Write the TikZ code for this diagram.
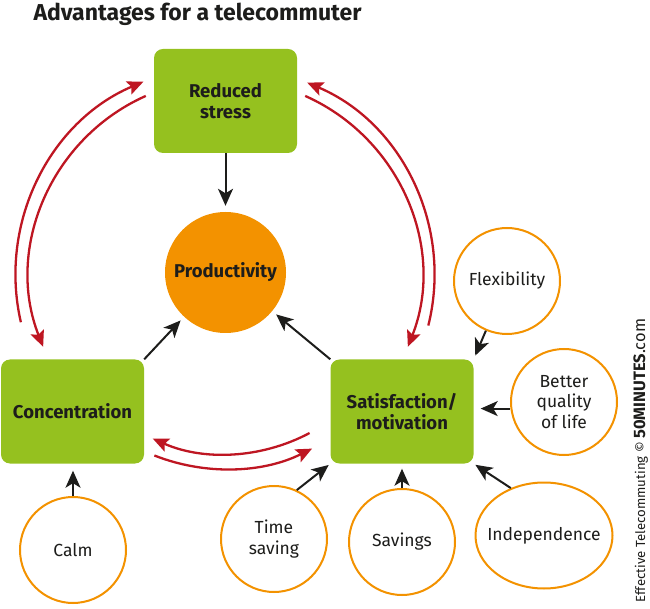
\documentclass[tikz,border=0pt]{standalone}
\usepackage{fontspec}
\setmainfont{Fira Sans}
\usetikzlibrary{arrows.meta, calc, shapes.geometric}
\definecolor{leafgreen}{HTML}{95C11F}
\definecolor{sunorange}{HTML}{F39200}
\definecolor{arrowred}{HTML}{BE1622}
\definecolor{ink}{HTML}{1D1D1B}
\tikzstyle{benefit}=[rectangle, rounded corners=9pt, fill=leafgreen, minimum width=143pt, minimum height=104pt, inner sep=2pt, align=center, text=ink, font=\bfseries\fontsize{18.5}{21}\selectfont]
\tikzstyle{hubdisc}=[circle, fill=sunorange, minimum size=121pt, inner sep=0pt, text=ink, font=\bfseries\fontsize{18.5}{21}\selectfont]
\tikzstyle{factor}=[circle, draw=sunorange, line width=2pt, fill=white, minimum size=106pt, inner sep=0pt, align=center, text=ink, font=\fontsize{17.5}{20.5}\selectfont]
\tikzstyle{lead}=[draw=ink, line width=2pt, -{Stealth[length=17pt, width=15pt, inset=4.5pt]}]
\tikzstyle{feedback}=[draw=arrowred, line width=2.3pt, -{Stealth[length=16pt, width=14pt, inset=3pt]}]

\begin{document}
\begin{tikzpicture}[x=1pt, y=1pt]
	\useasboundingbox (0,0) rectangle (650,608);

	\node[anchor=base west, text=ink, font=\bfseries\fontsize{23}{26}\selectfont] (title) at (30,587) {Advantages for a telecommuter};

	\node[benefit] (stress) at (225.5,507) {Reduced\\stress};
	\node[hubdisc] (prod) at (225.5,335.5) {Productivity};
	\node[benefit] (conc) at (72.5,196.5) {Concentration};
	\node[benefit] (satis) at (402,196.5) {Satisfaction/\\motivation};

	\node[factor] (calm) at (73,58) {Calm};
	\node[factor] (timesave) at (274,69) {Time\\saving};
	\node[factor] (savings) at (402,66) {Savings};
	\node[factor, ellipse, inner xsep=-10pt, minimum width=137pt, minimum height=106pt] (indep) at (544,72.5) {Independence};
	\node[factor] (quality) at (564,206) {Better\\quality\\of life};
	\node[factor] (flex) at (507,327) {Flexibility};

	\node[rotate=90, anchor=base west, text=ink, font=\fontsize{13.2}{15}\selectfont] (credit) at (645,2)
		{Effective Telecommuting \textcopyright{} {\fontsize{16.5}{18}\selectfont\bfseries 50MINUTES}{\fontsize{16.5}{18}\selectfont .com}};

	% black arrows
	\draw[lead, shorten >=6pt] (stress) -- (prod);
	\draw[lead, shorten >=5pt] (conc.north east) -- (prod);
	\draw[lead, shorten >=5pt] (satis.north west) -- (prod);
	\draw[lead, shorten >=4pt] (flex) -- (satis.north east);
	\draw[lead, shorten >=7pt] (quality.187) -- (quality.187 -| satis.east);
	\draw[lead, shorten >=2pt] (indep.125) -- (satis.south east);
	\draw[lead, shorten >=5pt] (savings.north) -- (savings.north |- satis.south);
	\draw[lead, shorten >=2pt] (timesave.65) -- (satis.south west);
	\draw[lead, shorten >=7pt] (calm.north) -- (calm.north |- conc.south);

	% red loops round the hub
	\coordinate (hub) at ($(prod)+(0,-2.5)$);
	\draw[feedback] ($(hub)+(193:210pt)$) arc[start angle=193, end angle=113, radius=210pt];
	\draw[feedback] ($(hub)+(114:196pt)$) arc[start angle=114, end angle=201.5, radius=196pt];
	\draw[feedback] ($(hub)+(-14:209pt)$) arc[start angle=-14, end angle=67, radius=209pt];
	\draw[feedback] ($(hub)+(66:196pt)$) arc[start angle=66, end angle=-21.5, radius=196pt];
	\draw[feedback] ($(hub)+(-62:179pt)$) arc[start angle=-62, end angle=-114, radius=179pt];
	\draw[feedback] ($(hub)+(-111.5:194pt)$) arc[start angle=-111.5, end angle=-63.5, radius=194pt];
\end{tikzpicture}
\end{document}
